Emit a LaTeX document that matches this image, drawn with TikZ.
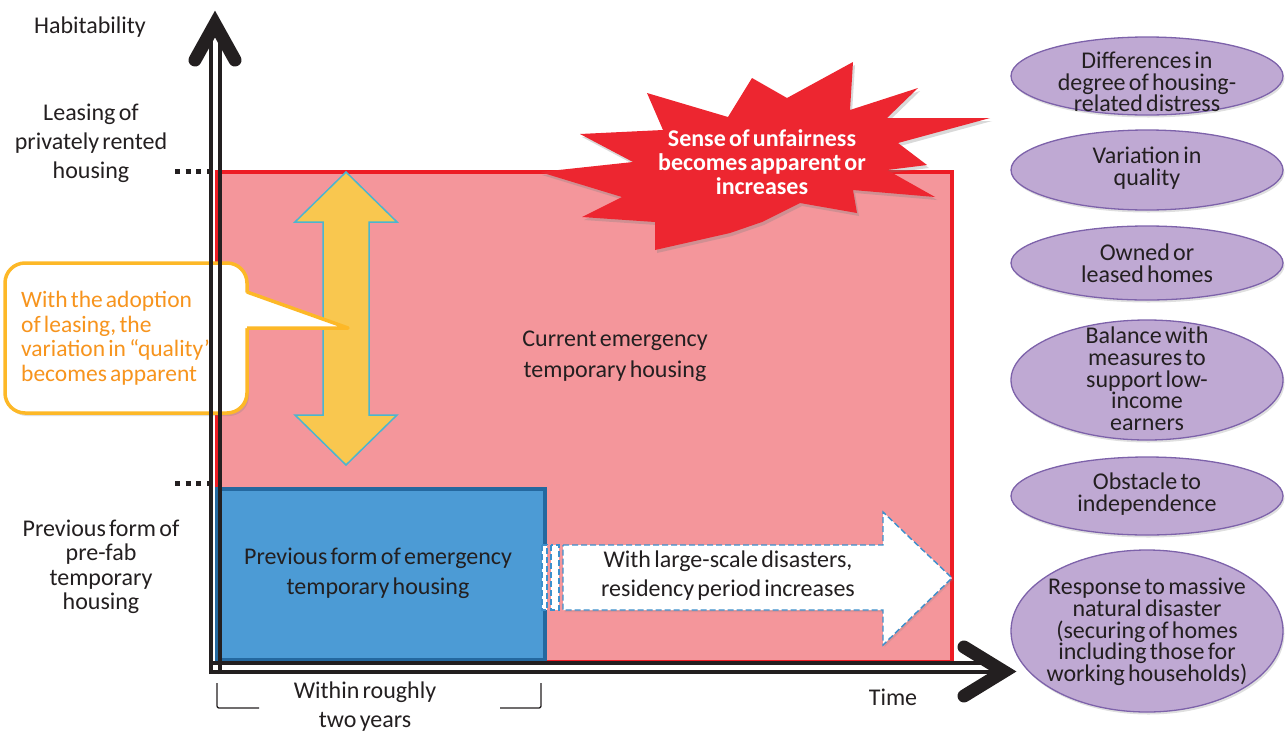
\documentclass[tikz,border=0pt]{standalone}
\usepackage{fontspec}
\setmainfont{Carlito}
\newfontfamily\callfont[WordSpace=0.6,Ligatures=TeX]{Carlito}
\usetikzlibrary{shapes.geometric,shadows}
\definecolor{rfill}{HTML}{F4969B}
\definecolor{rborder}{HTML}{ED1C24}
\definecolor{bfill}{HTML}{4C9BD5}
\definecolor{bborder}{HTML}{24689F}
\definecolor{yfill}{HTML}{F9C74F}
\definecolor{yborder}{HTML}{4BB6CF}
\definecolor{cborder}{HTML}{FDB827}
\definecolor{ctext}{HTML}{F7941D}
\definecolor{starred}{HTML}{ED2630}
\definecolor{efill}{HTML}{BFA9D3}
\definecolor{eborder}{HTML}{7D62AA}
\definecolor{dblue}{HTML}{3D8FCC}
\definecolor{txt}{HTML}{231F20}
\tikzset{
  ell/.style={ellipse, draw=eborder, line width=1.3pt, fill=efill, minimum width=272, inner sep=0pt,
    drop shadow={opacity=0.25, shadow xshift=1.5pt, shadow yshift=-2.5pt}},
  etext/.style={align=center, text=txt, font=\fontsize{24}{21.7}\selectfont, inner sep=0pt},
  axisline/.style={line width=4pt, draw=txt},
  chevron/.style={line width=13pt, draw=txt, line cap=round, line join=miter},
  dots/.style={line width=5pt, draw=txt, dash pattern=on 5pt off 5.7pt},
  lbl/.style={align=center, text=txt, inner sep=0pt},
  dashbox/.style={draw=dblue, line width=1.4pt, dash pattern=on 6pt off 3pt, fill=white},
}
\begin{document}
\begin{tikzpicture}[x=1pt,y=-1pt, font=\fontsize{24}{29}\selectfont]
\useasboundingbox (0,0) rectangle (1286,737);

% current emergency housing area
\node[draw=rborder, fill=rfill, line width=4pt, minimum width=735, minimum height=490, inner sep=0pt, anchor=north west] (cur) at (215,170) {};
% previous housing
\node[draw=bborder, fill=bfill, line width=4pt, minimum width=328, minimum height=171, inner sep=0pt, anchor=north west] (prev) at (215,487) {};

% yellow double arrow
\draw[fill=yfill, draw=yborder, line width=1.5pt] (346,172) -- (397,222) -- (369,222) -- (369,415) -- (397,415) -- (346,465) -- (295,415) -- (323,415) -- (323,222) -- (295,222) -- cycle;
\coordinate (yarrow) at (348,328);

% white dashed arrow
\draw[dashbox] (542,545) rectangle (547,610);
\draw[dashbox] (551,545) rectangle (559,610);
\draw[dashbox, drop shadow={opacity=0.2, shadow xshift=1.5pt, shadow yshift=-2pt}] (563,545) -- (883,545) -- (883,512) -- (952,578) -- (883,645) -- (883,610) -- (563,610) -- cycle;
\node[lbl] (longer) at (728,576) {With large-scale disasters,\\residency period increases};

\node[lbl, font=\fontsize{24}{31}\selectfont] (curtext) at (615,356) {Current emergency\\temporary housing};
\node[lbl, font=\fontsize{24}{30}\selectfont] (prevtext) at (378,573) {Previous form of emergency\\temporary housing};

% callout
\path[draw=cborder, line width=3.5pt, fill=white, rounded corners=20pt,
  drop shadow={opacity=0.25, shadow xshift=2pt, shadow yshift=-3pt}] (5,263) rectangle (247,413);
\fill[white] (244,292) -- (348,328) -- (244,328) -- cycle;
\draw[cborder, line width=3.5pt, line join=round] (247,292) -- (yarrow) -- (247,328);
\node[align=left, text=ctext, anchor=west, inner sep=0pt, font=\callfont\fontsize{23.5}{24.5}\selectfont] (call) at (21,338) {With the adoption\\of leasing, the\\variation in “quality”\\becomes apparent};

% starburst
\fill[starred, drop shadow={opacity=0.3, shadow xshift=2pt, shadow yshift=-3pt}]
  (647,93) -- (728,117) -- (752,78) -- (787,98) -- (853,62) -- (850,110) -- (918,88) -- (887,118)
  -- (990,118) -- (898,143) -- (927,165) -- (887,170) -- (935,197) -- (853,190) -- (857,213)
  -- (800,203) -- (762,222) -- (730,233) -- (655,250) -- (655,222) -- (582,217) -- (622,197)
  -- (540,172) -- (633,162) -- (580,134) -- (663,130) -- cycle;
\node[lbl, text=white, font=\bfseries\fontsize{24}{24}\selectfont] (unfair) at (762,162) {Sense of unfairness\\becomes apparent or\\increases};

% axes
\draw[axisline] (211,674) -- (211,37);
\draw[axisline] (219.5,674) -- (219.5,37);
\draw[axisline] (209,662.5) -- (992,662.5);
\draw[axisline] (209,672) -- (992,672);
\draw[chevron] (195,60) -- (215,24) -- (235,60);
\draw[chevron] (964,647) -- (1004,671.5) -- (964,696);

% dotted level markers
\coordinate (lvltop) at (212,171);
\coordinate (lvlbot) at (212,483);
\draw[dots] (175,171) -- (lvltop);
\draw[dots] (175,483) -- (lvlbot);

% left labels
\node[lbl] (hab) at (90,27) {Habitability};
\node[lbl] (lease) at (91,143) {Leasing of\\privately rented\\housing};
\node[lbl, font=\fontsize{24}{24.5}\selectfont] (prefab) at (101,567) {Previous form of\\pre-fab\\temporary\\housing};
\node[lbl] (time) at (893,697) {Time};

% bracket
\coordinate (bl1) at (217,683);
\coordinate (bl2) at (259,708);
\coordinate (br1) at (541,683);
\coordinate (br2) at (500,708);
\draw[txt, line width=1.3pt, rounded corners=2pt] (bl1) |- (bl2);
\draw[txt, line width=1.3pt, rounded corners=2pt] (br1) |- (br2);
\node[lbl] (two) at (365,707) {Within roughly\\two years};

% ellipses
\node[ell, minimum height=78] (e1) at (1147,76) {};
\node[etext] (t1) at (1147,82) {Differences in\\degree of housing-\\related distress};
\node[ell, minimum height=80] (e2) at (1147,170) {};
\node[etext] (t2) at (1147,168) {Variation in\\quality};
\node[ell, minimum height=74] (e3) at (1147,263) {};
\node[etext] (t3) at (1147,263) {Owned or\\leased homes};
\node[ell, minimum height=120] (e4) at (1147,380) {};
\node[etext] (t4) at (1147,379) {Balance with\\measures to\\support low-\\income\\earners};
\node[ell, minimum height=78] (e5) at (1147,496) {};
\node[etext] (t5) at (1147,494) {Obstacle to\\independence};
\node[ell, minimum height=162] (e6) at (1147,631) {};
\node[etext] (t6) at (1147,632) {Response to massive\\natural disaster\\(securing of homes\\including those for\\working households)};
\end{tikzpicture}
\end{document}
